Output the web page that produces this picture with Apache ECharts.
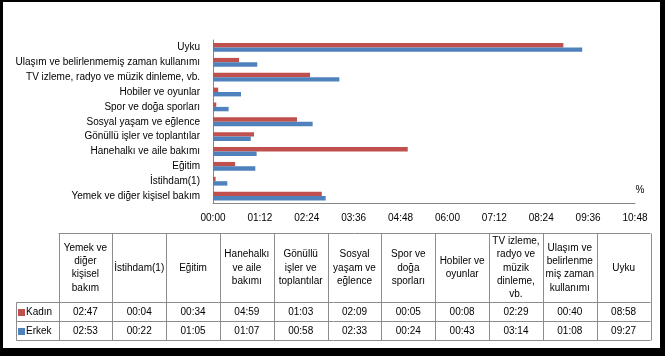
<!DOCTYPE html>
<html>
<head>
<meta charset="utf-8">
<script src="https://cdn.jsdelivr.net/npm/echarts@6/dist/echarts.min.js"></script>
<style>
html,body{margin:0;padding:0;background:#fff;}
#chart{width:665px;height:356px;}
</style>
</head>
<body>
<div id="chart"></div>
<script>
// ---- data ----
const categories = [
  'Yemek ve diğer kişisel bakım',
  'İstihdam(1)',
  'Eğitim',
  'Hanehalkı ve aile bakımı',
  'Gönüllü işler ve toplantılar',
  'Sosyal yaşam ve eğlence',
  'Spor ve doğa sporları',
  'Hobiler ve oyunlar',
  'TV izleme, radyo ve müzik dinleme, vb.',
  'Ulaşım ve belirlenmemiş zaman kullanımı',
  'Uyku'
];
const tableHeaders = [
  'Yemek ve\ndiğer\nkişisel\nbakım',
  'İstihdam(1)',
  'Eğitim',
  'Hanehalkı\nve aile\nbakımı',
  'Gönüllü\nişler ve\ntoplantılar',
  'Sosyal\nyaşam ve\neğlence',
  'Spor ve\ndoğa\nsporları',
  'Hobiler ve\noyunlar',
  'TV izleme,\nradyo ve\nmüzik\ndinleme,\nvb.',
  'Ulaşım ve\nbelirlenme\nmiş zaman\nkullanımı',
  'Uyku'
];
const seriesNames = ['Kadın', 'Erkek'];
const kadin = ['02:47','00:04','00:34','04:59','01:03','02:09','00:05','00:08','02:29','00:40','08:58'];
const erkek = ['02:53','00:22','01:05','01:07','00:58','02:33','00:24','00:43','03:14','01:08','09:27'];
const xTicks = ['00:00','01:12','02:24','03:36','04:48','06:00','07:12','08:24','09:36','10:48'];

// ---- helpers ----
const toMin = s => { const p = s.split(':'); return (+p[0]) * 60 + (+p[1]); };
const fmt = m => String(Math.floor(m / 60)).padStart(2, '0') + ':' + String(Math.round(m % 60)).padStart(2, '0');
const colors = ['#C0504D', '#4F81BD'];
const FONT = "'Liberation Sans', Arial, sans-serif";

// table geometry
const tLeft = 16, tX0 = 58.5, tRight = 650.5;
const tTop = 233.5, tHead = 302.5, tRow1 = 321.5, tBot = 340.5;
const colW = (tRight - tX0) / categories.length;
const lineStyle = { stroke: '#8c8c8c', lineWidth: 1 };

const graphics = [];
// horizontal lines
graphics.push({ type: 'line', shape: { x1: tX0, y1: tTop, x2: tRight, y2: tTop }, style: lineStyle });
[tHead, tRow1, tBot].forEach(y => graphics.push({ type: 'line', shape: { x1: tLeft + 0.5, y1: y, x2: tRight, y2: y }, style: lineStyle }));
// vertical lines
graphics.push({ type: 'line', shape: { x1: tLeft + 0.5, y1: tHead, x2: tLeft + 0.5, y2: tBot }, style: lineStyle });
for (let i = 0; i <= categories.length; i++) {
  const x = Math.round(tX0 + i * colW) + 0.5;
  graphics.push({ type: 'line', shape: { x1: x, y1: tTop, x2: x, y2: tBot }, style: lineStyle });
}
// header texts & values
tableHeaders.forEach((h, i) => {
  const cx = tX0 + (i + 0.5) * colW;
  graphics.push({ type: 'text', x: cx, y: (tTop + tHead) / 2, style: { text: h, fill: '#000', font: '10px ' + FONT, align: 'center', verticalAlign: 'middle', lineHeight: 13.3 } });
  graphics.push({ type: 'text', x: cx, y: (tHead + tRow1) / 2 + 0.5, style: { text: kadin[i], fill: '#000', font: '10px ' + FONT, align: 'center', verticalAlign: 'middle' } });
  graphics.push({ type: 'text', x: cx, y: (tRow1 + tBot) / 2 + 0.5, style: { text: erkek[i], fill: '#000', font: '10px ' + FONT, align: 'center', verticalAlign: 'middle' } });
});
// legend keys in table
[[tHead, tRow1], [tRow1, tBot]].forEach((r, k) => {
  const cy = (r[0] + r[1]) / 2;
  graphics.push({ type: 'rect', shape: { x: 18, y: Math.round(cy - 3.5), width: 7, height: 7 }, style: { fill: colors[k] } });
  graphics.push({ type: 'text', x: 26, y: cy + 0.5, style: { text: seriesNames[k], fill: '#000', font: '10px ' + FONT, align: 'left', verticalAlign: 'middle' } });
});
// percent sign
graphics.push({ type: 'text', x: 640, y: 190, style: { text: '%', fill: '#000', font: '10px ' + FONT, align: 'center', verticalAlign: 'middle' } });
// outer black frame
graphics.push({ type: 'rect', shape: { x: 0, y: 0, width: 665, height: 2 }, style: { fill: '#000' } });
graphics.push({ type: 'rect', shape: { x: 0, y: 0, width: 3, height: 356 }, style: { fill: '#000' } });
graphics.push({ type: 'rect', shape: { x: 660, y: 0, width: 5, height: 356 }, style: { fill: '#000' } });
graphics.push({ type: 'rect', shape: { x: 0, y: 348, width: 665, height: 8 }, style: { fill: '#000' } });

const chart = echarts.init(document.getElementById('chart'), null, { renderer: 'canvas' });
chart.setOption({
  animation: false,
  backgroundColor: '#fff',
  textStyle: { fontFamily: FONT },
  grid: { left: 213, right: 30, top: 40, bottom: 152.5, containLabel: false },
  xAxis: {
    type: 'value', min: 0, max: toMin(xTicks[xTicks.length - 1]), interval: toMin(xTicks[1]),
    axisLine: { show: true, lineStyle: { color: '#868686', width: 1 } },
    axisTick: { show: false },
    splitLine: { show: false },
    axisLabel: { color: '#000', fontSize: 10, fontFamily: FONT, margin: 10, formatter: v => fmt(v) }
  },
  yAxis: {
    type: 'category', data: categories,
    axisLine: { show: true, lineStyle: { color: '#868686', width: 1 } },
    axisTick: { show: false },
    axisLabel: { color: '#000', fontSize: 10, fontFamily: FONT, margin: 13 }
  },
  series: [
    { name: seriesNames[0], type: 'bar', data: kadin.map(toMin), barWidth: 4.4, barGap: '0%', itemStyle: { color: colors[0] } },
    { name: seriesNames[1], type: 'bar', data: erkek.map(toMin), barWidth: 4.4, barGap: '0%', itemStyle: { color: colors[1] } }
  ],
  graphic: graphics
});
</script>
</body>
</html>
